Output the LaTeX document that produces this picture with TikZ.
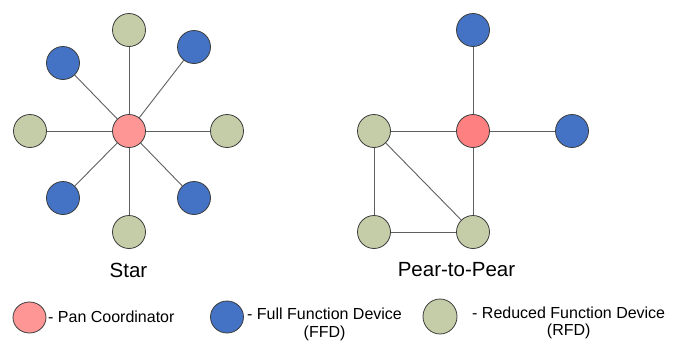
\documentclass[tikz,border=0pt]{standalone}
\usepackage{fontspec}
\setmainfont{Liberation Sans}
\usepackage{tikz}
\usetikzlibrary{shapes.geometric}

\definecolor{pan}{RGB}{255,150,150}
\definecolor{panb}{RGB}{255,128,128}
\definecolor{ffd}{RGB}{68,114,196}
\definecolor{rfd}{RGB}{197,205,168}
\definecolor{rim}{RGB}{60,60,60}
\definecolor{wire}{RGB}{95,95,95}

\begin{document}
\begin{tikzpicture}[x=1pt,y=-1pt]
\useasboundingbox (0,0) rectangle (681,343);

\begin{scope}[every node/.style={circle,draw=rim,line width=0.8pt,minimum size=33pt,inner sep=0pt}]
    % star
    \node[fill=pan] (s0) at (129,131) {};
    \node[fill=rfd] (s1) at (129,30 ) {};
    \node[fill=ffd] (s2) at (194,47 ) {};
    \node[fill=rfd] (s3) at (227,131) {};
    \node[fill=ffd] (s4) at (194,198) {};
    \node[fill=rfd] (s5) at (129,232) {};
    \node[fill=ffd] (s6) at (63 ,198) {};
    \node[fill=rfd] (s7) at (30 ,131) {};
    \node[fill=ffd] (s8) at (63 ,63 ) {};
    % peer
    \node[fill=panb] (p0) at (473,131) {};
    \node[fill=ffd]  (p1) at (473,30 ) {};
    \node[fill=ffd]  (p2) at (572,131) {};
    \node[fill=rfd]  (p3) at (374,131) {};
    \node[fill=rfd]  (p4) at (374,232) {};
    \node[fill=rfd]  (p5) at (473,232) {};
\end{scope}

\begin{scope}[every node/.style={ellipse,draw=rim,line width=0.8pt,inner sep=0pt}]
    \node[fill=pan,minimum width=33pt,minimum height=31pt] (l1) at (29.5,317.5) {};
    \node[fill=ffd,minimum width=33pt,minimum height=32pt] (l2) at (227 ,317  ) {};
    \node[fill=rfd,minimum width=34pt,minimum height=35pt] (l3) at (440 ,316.5) {};
\end{scope}

\begin{scope}[every edge/.style={draw=wire,line width=0.9pt}]
    \path (s0) edge (s1) edge (s2) edge (s3) edge (s4)
               edge (s5) edge (s6) edge (s7) edge (s8);

    \path (p0) edge (p1) edge (p2) edge (p3) edge (p5);
    \path (p3) edge (p4) edge (p5);
    \path (p4) edge (p5);
\end{scope}

\begin{scope}[every node/.style={inner sep=0pt,text=black}]
    \node[font=\fontsize{20.5}{24}\selectfont] (star) at (128.5,270) {Star};
    \node[font=\fontsize{20.5}{24}\selectfont] (peer) at (456.5,270) {Pear-to-Pear};

    \node[font=\fontsize{16}{17.5}\selectfont,anchor=west] (t1) at (48 ,317) {- Pan Coordinator};
    \node[font=\fontsize{16}{17.5}\selectfont,anchor=west,align=center] (t2) at (247,324.5) {- Full Function Device\\(FFD)};
    \node[font=\fontsize{16}{17.5}\selectfont,anchor=west,align=center] (t3) at (472,323) {- Reduced Function Device\\(RFD)};
\end{scope}
\end{tikzpicture}
\end{document}
